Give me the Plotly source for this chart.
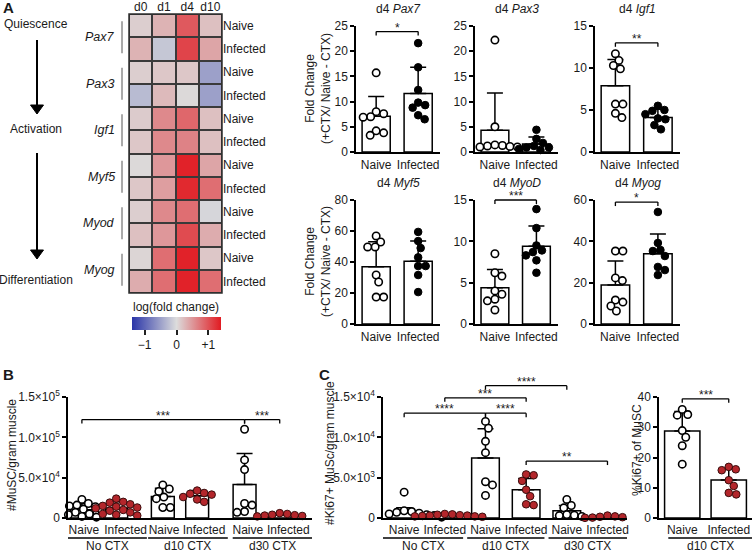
import plotly.graph_objects as go

W, H = 753, 552
FONT = "Liberation Sans, Arial, Helvetica, sans-serif"

# ---------------- data: panel A heatmap ----------------
hm_days = ["d0", "d1", "d4", "d10"]
hm_genes = ["Pax7", "Pax3", "Igf1", "Myf5", "Myod", "Myog"]
hm_rows = ["Naive", "Infected"]
hm_pax7 = [[0.10, 0.30, 0.95, 0.20], [0.30, -0.18, 1.10, 0.40]]
hm_pax3 = [[0.10, 0.15, 0.15, -0.50], [-0.28, 0.25, 0.02, -0.50]]
hm_igf1 = [[0.12, 0.60, 0.85, 0.20], [0.15, 0.60, 0.65, 0.20]]
hm_myf5 = [[0.02, 0.50, 1.35, 0.40], [0.15, 0.45, 1.30, 0.80]]
hm_myod = [[0.10, 0.60, 0.80, -0.05], [0.20, 0.50, 1.05, 0.35]]
hm_myog = [[0.05, 0.80, 1.35, 0.15], [0.35, 0.80, 1.35, 0.80]]
hm_cbar_ticks = [-1, 0, 1]
hm_cbar_text = ["\u22121", "0", "+1"]

# ---------------- data: panel A bar charts ----------------
a_genes = ["Pax7", "Pax3", "Igf1", "Myf5", "MyoD", "Myog"]
a_cats = ["Naive", "Infected"]
a_naive_pts = [
    [15.7, 8.0, 7.6, 7.0, 6.9, 4.2, 3.8, 3.3],
    [22.2, 5.0, 1.4, 1.3, 1.2, 1.1, 1.0, 1.0],
    [11.7, 10.9, 10.3, 9.9, 5.7, 5.7, 4.6, 4.1],
    [56.8, 52.9, 49.7, 49.7, 31.6, 27.1, 17.4, 17.4],
    [8.5, 6.2, 5.8, 4.0, 3.6, 3.0, 2.8, 1.7],
    [35.3, 35.3, 22.3, 21.0, 11.6, 10.6, 8.7, 6.3],
]
a_inf_pts = [
    [21.6, 16.8, 12.3, 9.8, 9.3, 8.8, 7.3, 6.5],
    [4.4, 2.6, 1.8, 1.2, 0.9, 0.9, 0.6, 0.4],
    [5.5, 5.0, 4.9, 4.5, 4.0, 3.9, 3.2, 2.7],
    [59.4, 53.5, 49.0, 43.0, 37.4, 37.4, 31.6, 20.6],
    [13.9, 11.6, 9.5, 8.9, 8.7, 8.3, 7.7, 6.2],
    [54.2, 39.2, 35.8, 35.3, 32.9, 27.6, 26.1, 23.7],
]
a_naive_mean = [7.1, 4.3, 7.9, 37.0, 4.4, 18.9]
a_naive_sd = [3.9, 7.4, 3.1, 16.0, 2.2, 11.6]
a_inf_mean = [11.6, 1.6, 4.1, 40.5, 9.4, 34.0]
a_inf_sd = [5.2, 1.4, 1.0, 13.0, 2.45, 9.5]
a_ymax = [25, 25, 15, 80, 15, 60]
a_dtick = [5, 5, 5, 20, 5, 20]
a_sig = ["*", "", "**", "", "***", "*"]
a_sig_y = [23.9, 0, 13.0, 0, 15.0, 59.0]

# ---------------- data: panel B ----------------
b_cats = ["Naive", "Infected", "Naive", "Infected", "Naive", "Infected"]
b_groups = ["No CTX", "d10 CTX", "d30 CTX"]
b_pts = [
    [23000, 18000, 16000, 15000, 14000, 12000, 11000, 9000, 7000, 5000, 4000, 3000, 2000, 1000],
    [24000, 20000, 19000, 17000, 15000, 14000, 13000, 12000, 10000, 9000, 7000, 5000, 4000, 3000],
    [41000, 36000, 33000, 26000, 24000, 13000, 13000],
    [34000, 31000, 30000, 29000, 26000, 23000, 20000],
    [110000, 72000, 60000, 18000, 16000, 8000, 7000],
    [6000, 5000, 4000, 3500, 3000, 2500, 2000],
]
b_mean = [10100, 12300, 26600, 27600, 41600, 3700]
b_sd = [7600, 7700, 10400, 6400, 38400, 1300]
b_ticks = [0, 50000, 100000, 150000]
b_ticktext = ["0", "5.0\u00d710<sup>4</sup>", "1.0\u00d710<sup>5</sup>", "1.5\u00d710<sup>5</sup>"]
b_sig = [(0, 4, 122000, "***"), (4, 5, 122000, "***")]

# ---------------- data: panel C ----------------
c_cats = ["Naive", "Infected", "Naive", "Infected", "Naive", "Infected"]
c_groups = ["No CTX", "d10 CTX", "d30 CTX"]
c_pts = [
    [3200, 900, 800, 700, 600, 500, 400, 300, 300, 200, 100, 100],
    [500, 450, 400, 350, 300, 300, 250, 200, 200, 150],
    [11970, 11130, 9500, 8100, 4500, 4100, 2800],
    [5400, 5300, 4600, 3500, 2700, 1700, 1600],
    [2300, 1550, 1260, 420, 340, 300, 200],
    [300, 200, 150, 100, 50, 20, 20],
]
c_mean = [680, 310, 7440, 3500, 910, 90]
c_sd = [580, 100, 3610, 1400, 640, 100]
c_ticks = [0, 5000, 10000, 15000]
c_ticktext = ["0", "5.0\u00d710<sup>3</sup>", "1.0\u00d710<sup>4</sup>", "1.5\u00d710<sup>4</sup>"]
c_sig = [(0, 2, 13000, "****"), (2, 3, 13000, "****"), (1, 3, 14900, "***"),
         (2, 4, 16400, "****"), (3, 5, 7060, "**")]

# ---------------- data: panel C right ----------------
d_cats = ["Naive", "Infected"]
d_group = "d10 CTX"
d_naive_pts = [35.9, 34.2, 34.0, 28.9, 26.7, 23.9, 17.8]
d_inf_pts = [16.9, 16.1, 15.8, 12.5, 10.6, 8.3, 7.8]
d_mean = [28.8, 12.6]
d_sd = [6.4, 3.7]
d_sig = [(0, 1, 39.4, "***")]

# ---------------- helpers ----------------
RED = "#b3262b"
INK = "#1a1a1a"
shapes, annotations = [], []
layout = dict(template="none", width=W, height=H, margin=dict(l=0, r=0, t=0, b=0, pad=0),
              paper_bgcolor="white", plot_bgcolor="rgba(0,0,0,0)", showlegend=False,
              font=dict(family=FONT, size=12, color=INK))
fig = go.Figure()


def fx(px):
    return px / W


def fy(py):
    return 1 - py / H


def sfx(n):
    return "" if n == 1 else str(n)


def text(x, y, s, size=12, xanchor="center", yanchor="middle", angle=0, bold=False, **kw):
    if bold:
        s = "<b>" + s + "</b>"
    annotations.append(dict(x=x, y=y, xref=kw.pop("xref", "paper"), yref=kw.pop("yref", "paper"),
                            text=s, showarrow=False, xanchor=xanchor, yanchor=yanchor,
                            textangle=angle, font=dict(size=size, color=INK), **kw))


def swarm(vals, ppu_x, ppu_y, diam=7.4):
    order = sorted(range(len(vals)), key=lambda i: -vals[i])
    cands = [0.0]
    for k in range(1, 80):
        cands += [k * 0.5, -k * 0.5]
    placed, xs = [], [0.0] * len(vals)
    for i in order:
        yv = vals[i] * ppu_y
        for c in cands:
            if all((c - a) ** 2 + (yv - b) ** 2 >= diam ** 2 for a, b in placed):
                break
        placed.append((c, yv))
        xs[i] = c / ppu_x
    return xs


def bar_axes(n, xpx, ypx, xr, yr, tickvals, ticktext, xstand=0,
             ytickvals=None, yticktext=None, dtick=None):
    s = sfx(n)
    layout["xaxis" + s] = dict(domain=[fx(xpx[0]), fx(xpx[1])], range=xr, anchor="y" + s,
                               tickmode="array", tickvals=tickvals, ticktext=ticktext,
                               ticks="", ticklabelstandoff=xstand, tickangle=0,
                               showline=True, linecolor="black", linewidth=1.5, showgrid=False,
                               zeroline=False, automargin=False,
                               tickfont=dict(size=12, color=INK), fixedrange=True)
    ya = dict(domain=[fy(ypx[1]), fy(ypx[0])], range=yr, anchor="x" + s, showline=True,
              linecolor="black", linewidth=1.5, ticks="outside", ticklen=4, tickwidth=1.5,
              tickcolor="black", showgrid=False, zeroline=False, automargin=False,
              tickfont=dict(size=12, color=INK), fixedrange=True)
    if ytickvals is not None:
        ya.update(tickmode="array", tickvals=ytickvals, ticktext=yticktext)
    else:
        ya.update(tickmode="linear", tick0=0, dtick=dtick)
    layout["yaxis" + s] = ya


def add_bars(n, xs, means, sds, pts_list, styles, xr, yr, xpx, ypx, width):
    s = sfx(n)
    fig.add_trace(go.Bar(x=xs, y=means, width=width, xaxis="x" + s, yaxis="y" + s,
                         marker=dict(color="white", line=dict(color="black", width=1.5)),
                         error_y=dict(type="data", symmetric=False, array=sds,
                                      arrayminus=[0] * len(sds), color="black",
                                      thickness=1.5, width=8),
                         hoverinfo="skip"))
    ppu_x = (xpx[1] - xpx[0]) / (xr[1] - xr[0])
    ppu_y = (ypx[1] - ypx[0]) / (yr[1] - yr[0])
    for x0, pts, st in zip(xs, pts_list, styles):
        offs = swarm(pts, ppu_x, ppu_y)
        if st == "open":
            mk = dict(color="white", size=7.4, line=dict(color="black", width=1.6))
        elif st == "black":
            mk = dict(color="black", size=7.6, line=dict(color="black", width=1))
        else:
            mk = dict(color=RED, size=7.6, line=dict(color="#3a0d0d", width=1))
        fig.add_trace(go.Scatter(x=[x0 + o for o in offs], y=pts, mode="markers",
                                 xaxis="x" + s, yaxis="y" + s, marker=mk,
                                 cliponaxis=False, hoverinfo="skip"))


def add_bracket(n, xr, yr, ypx, x0, x1, yv, label, drop=4):
    s = sfx(n)
    xref, yref = "x" + s + " domain", "y" + s + " domain"
    a = (x0 - xr[0]) / (xr[1] - xr[0])
    b = (x1 - xr[0]) / (xr[1] - xr[0])
    y = (yv - yr[0]) / (yr[1] - yr[0])
    d = drop / (ypx[1] - ypx[0])
    ln = dict(color="black", width=1.3)
    shapes.append(dict(type="line", xref=xref, yref=yref, x0=a, x1=b, y0=y, y1=y, line=ln))
    shapes.append(dict(type="line", xref=xref, yref=yref, x0=a, x1=a, y0=y, y1=y - d, line=ln))
    shapes.append(dict(type="line", xref=xref, yref=yref, x0=b, x1=b, y0=y, y1=y - d, line=ln))
    text((a + b) / 2, y, label, size=12, yanchor="bottom", xref=xref, yref=yref, yshift=-5)


def add_group_lines(n, xr, ypx, spans, labels):
    s = sfx(n)
    xref, yref = "x" + s + " domain", "y" + s + " domain"
    hpx = ypx[1] - ypx[0]
    yl = -(538 - ypx[1]) / hpx
    yt = -(546 - ypx[1]) / hpx
    for (x0, x1), lab in zip(spans, labels):
        a = (x0 - xr[0]) / (xr[1] - xr[0])
        b = (x1 - xr[0]) / (xr[1] - xr[0])
        shapes.append(dict(type="line", xref=xref, yref=yref, x0=a, x1=b, y0=yl, y1=yl,
                           line=dict(color="black", width=1.3)))
        text((a + b) / 2, yt, lab, size=12, xref=xref, yref=yref)


# ---------------- panel A: heatmap ----------------
HX, HY = (129, 222), (14, 293)
z, ylab = [], []
for g in [hm_pax7, hm_pax3, hm_igf1, hm_myf5, hm_myod, hm_myog]:
    for r, row in zip(hm_rows, g):
        z.append(row)
        ylab.append(r)
shapes.append(dict(type="rect", xref="paper", yref="paper", x0=fx(HX[0]), x1=fx(HX[1]),
                   y0=fy(HY[1]), y1=fy(HY[0]), fillcolor="#3a3a3a",
                   line=dict(color="#2e2e2e", width=1.5), layer="below"))
fig.add_trace(go.Heatmap(
    z=z, x=list(range(len(hm_days))), y=list(range(len(z))), xgap=2, ygap=2,
    colorscale=[[0, "#2a35a8"], [0.5, "#dcdcdc"], [1, "#e11b22"]], zmin=-1.4, zmax=1.4,
    xaxis="x", yaxis="y", hoverinfo="skip",
    colorbar=dict(orientation="h", x=fx(176.5), xanchor="center", len=89 / W, lenmode="fraction",
                  thickness=13, thicknessmode="pixels", y=fy(317), yanchor="top", xpad=0, ypad=0,
                  outlinewidth=0, tickvals=hm_cbar_ticks, ticktext=hm_cbar_text, ticks="outside",
                  ticklen=5, tickwidth=1.5, tickcolor="#222",
                  tickfont=dict(size=12, color=INK))))
layout["xaxis"] = dict(domain=[fx(HX[0]), fx(HX[1])], range=[-0.5, 3.5], side="top",
                       tickvals=list(range(4)), ticktext=hm_days, ticks="", showgrid=False,
                       zeroline=False, showline=False, anchor="y", automargin=False,
                       tickfont=dict(size=12, color=INK), fixedrange=True)
layout["yaxis"] = dict(domain=[fy(HY[1]), fy(HY[0])], range=[11.5, -0.5], side="right",
                       tickvals=list(range(12)), ticktext=ylab, ticks="", showgrid=False,
                       zeroline=False, showline=False, anchor="x", automargin=False,
                       tickfont=dict(size=12, color=INK), fixedrange=True)
text(fx(176), fy(307), "log(fold change)", size=12)

rowh = (HY[1] - HY[0]) / 12
for gi, gname in enumerate(hm_genes):
    cy = HY[0] + (2 * gi + 1) * rowh
    text(fx(117), fy(cy), "<i>" + gname + "</i>", size=12.5, xanchor="right")
    shapes.append(dict(type="line", xref="paper", yref="paper", x0=fx(122), x1=fx(122),
                       y0=fy(cy - 16), y1=fy(cy + 16), line=dict(color="#555", width=1)))

text(fx(36), fy(24), "Quiescence", size=12)
text(fx(36), fy(129), "Activation", size=12)
text(fx(36), fy(280), "Differentiation", size=12)
for (t0, t1) in [(40, 105), (153, 250)]:
    shapes.append(dict(type="line", xref="paper", yref="paper", x0=fx(37), x1=fx(37),
                       y0=fy(t0), y1=fy(t1), line=dict(color="black", width=2)))
    shapes.append(dict(type="path", xref="paper", yref="paper",
                       path=f"M{fx(30.5)},{fy(t1)} L{fx(43.5)},{fy(t1)} L{fx(37)},{fy(t1 + 9)} Z",
                       fillcolor="black", line=dict(color="black", width=1)))
text(fx(1), fy(8), "A", size=15, xanchor="left", bold=True)

# ---------------- panel A: bar charts ----------------
A_COLS = [(356, 440), (475, 558), (595, 680)]
A_ROWS = [(26, 152), (200, 324)]
A_XR = [-0.48, 1.52]
for i, gene in enumerate(a_genes):
    n = 2 + i
    xpx, ypx = A_COLS[i % 3], A_ROWS[i // 3]
    yr = [0, a_ymax[i]]
    bar_axes(n, xpx, ypx, A_XR, yr, [0, 1], a_cats, xstand=1, dtick=a_dtick[i])
    add_bars(n, [0, 1], [a_naive_mean[i], a_inf_mean[i]], [a_naive_sd[i], a_inf_sd[i]],
             [a_naive_pts[i], a_inf_pts[i]], ["open", "black"], A_XR, yr, xpx, ypx, 0.67)
    text(fx((xpx[0] + xpx[1]) / 2), fy(ypx[0] - 17), "d4 <i>" + gene + "</i>", size=12)
    if a_sig[i]:
        add_bracket(n, A_XR, yr, ypx, 0, 1, a_sig_y[i], a_sig[i])
for ypx in A_ROWS:
    text(fx(318), fy((ypx[0] + ypx[1]) / 2), "Fold Change<br>(+CTX/ Naive - CTX)", size=12, angle=-90)

# ---------------- panel B ----------------
BX, BY, BXR = (68, 312), (397, 518), [-0.42, 5.55]
b_barpos = [-0.08, 0.76, 1.90, 2.74, 3.90, 4.76]
b_labpos = [-0.03, 0.99, 1.93, 2.91, 3.98, 4.97]
bar_axes(8, BX, BY, BXR, [0, 150000], b_labpos, b_cats, xstand=0,
         ytickvals=b_ticks, yticktext=b_ticktext)
add_bars(8, b_barpos, b_mean, b_sd, b_pts, ["open", "red"] * 3, BXR, [0, 150000], BX, BY, 0.56)
for x0, x1, yv, lab in b_sig:
    add_bracket(8, BXR, [0, 150000], BY, b_barpos[x0], b_barpos[x1], yv, lab)
add_group_lines(8, BXR, BY, [(-0.42, 1.51), (1.54, 3.49), (3.61, 5.55)], b_groups)
text(fx(12), fy(455), "#MuSC/gram muscle", size=12, angle=-90)
text(fx(1), fy(374), "B", size=15, xanchor="left", bold=True)

# ---------------- panel C ----------------
CX, CY, CXR = (383, 627), (397, 518), [-0.52, 5.48]
cx = list(range(6))
bar_axes(9, CX, CY, CXR, [0, 15000], cx, c_cats, xstand=0,
         ytickvals=c_ticks, yticktext=c_ticktext)
add_bars(9, cx, c_mean, c_sd, c_pts, ["open", "red"] * 3, CXR, [0, 15000], CX, CY, 0.68)
for x0, x1, yv, lab in c_sig:
    add_bracket(9, CXR, [0, 15000], CY, x0, x1, yv, lab)
add_group_lines(9, CXR, CY, [(-0.52, 1.45), (1.55, 3.45), (3.55, 5.48)], c_groups)
text(fx(330), fy(453), "#Ki67+ MuSc/gram muscle", size=12, angle=-90)
text(fx(317), fy(374), "C", size=15, xanchor="left", bold=True)

# ---------------- panel C right ----------------
DX, DY, DXR = (659, 752), (397, 518), [-0.5, 1.5]
bar_axes(10, DX, DY, DXR, [0, 40], [0, 1], d_cats, xstand=0, dtick=10)
add_bars(10, [0, 1], d_mean, d_sd, [d_naive_pts, d_inf_pts], ["open", "red"], DXR, [0, 40], DX, DY, 0.76)
for x0, x1, yv, lab in d_sig:
    add_bracket(10, DXR, [0, 40], DY, x0, x1, yv, lab)
add_group_lines(10, DXR, DY, [(-0.3, 1.5)], [d_group])
text(fx(637), fy(450), "%Ki67+ of MuSC", size=12, angle=-90)

layout["shapes"] = shapes
layout["annotations"] = annotations
fig.update_layout(**layout)
fig.write_html("out.html", config={"displayModeBar": False},
               post_script="document.body.style.margin='0px';document.body.style.overflow='hidden';")
